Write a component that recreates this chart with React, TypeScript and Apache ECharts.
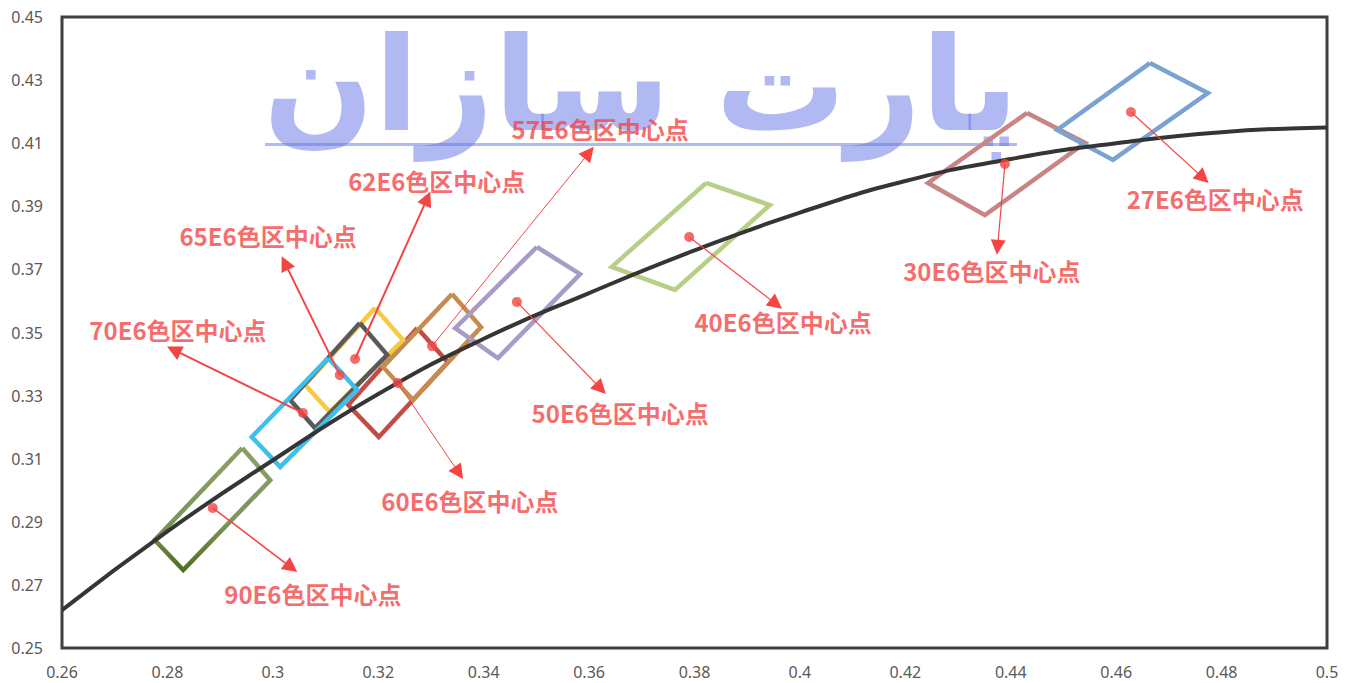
import React, { useEffect, useRef } from 'react';
import * as echarts from 'echarts';

// Fitted curve
const curveX = [0.26, 0.28, 0.30, 0.32, 0.34, 0.36, 0.38, 0.40, 0.42, 0.44, 0.46, 0.48, 0.50];
const curveY = [0.262, 0.287, 0.3095, 0.3305, 0.348, 0.3625, 0.376, 0.388, 0.398, 0.405, 0.410, 0.4135, 0.415];

// Colour zones
const zoneNames = ['27E6', '30E6', '40E6', '50E6', '57E6', '60E6', '62E6', '65E6', '70E6', '90E6'];
const labelSuffix = '色区中心点';
const zoneCorners = [
  [[0.4664, 0.4354], [0.4774, 0.4259], [0.4594, 0.4047], [0.4488, 0.4142]],
  [[0.4431, 0.4196], [0.4541, 0.4101], [0.4351, 0.3872], [0.4243, 0.3974]],
  [[0.3822, 0.3974], [0.3943, 0.3904], [0.3763, 0.3635], [0.3643, 0.3708]],
  [[0.3501, 0.3771], [0.3583, 0.3685], [0.3427, 0.3419], [0.3346, 0.3514]],
  [[0.3340, 0.3622], [0.3395, 0.3517], [0.3266, 0.3286], [0.3209, 0.3391]],
  [[0.3274, 0.3514], [0.3332, 0.3406], [0.3201, 0.3169], [0.3143, 0.3270]],
  [[0.3194, 0.3578], [0.3247, 0.3476], [0.3108, 0.3248], [0.3061, 0.3334]],
  [[0.3165, 0.3530], [0.3217, 0.3429], [0.3080, 0.3197], [0.3033, 0.3286]],
  [[0.3105, 0.3419], [0.3160, 0.3318], [0.3014, 0.3074], [0.2960, 0.3169]],
  [[0.2942, 0.3134], [0.2995, 0.3032], [0.2830, 0.2747], [0.2776, 0.2842]],
];
const zoneCenters = [
  [0.4628, 0.4199], [0.4389, 0.4034], [0.3790, 0.3803], [0.3463, 0.3597], [0.3302, 0.3457],
  [0.3237, 0.3340], [0.3156, 0.3416], [0.3127, 0.3365], [0.3057, 0.3245], [0.2886, 0.2944],
];
const arrowTips = [
  [0.4765, 0.3990], [0.4375, 0.3770], [0.3955, 0.3590], [0.3622, 0.3322], [0.3600, 0.4070],
  [0.3353, 0.3055], [0.3293, 0.3925], [0.3023, 0.3720], [0.2812, 0.3445], [0.3035, 0.2755],
];
const labelSpots = [
  [0.4788, 0.3926], [0.4364, 0.3695], [0.3968, 0.3536], [0.3659, 0.3248], [0.3621, 0.4148],
  [0.3374, 0.2969], [0.3311, 0.3983], [0.2991, 0.3809], [0.2820, 0.3508], [0.3076, 0.2674],
];

// styles (kept apart from data)
const zoneColors = ['#7ba3d2', '#c98584', '#b7cf86', '#a89bc8', '#c58b4f', '#c24b47', '#f9c841', '#5a5a5a', '#3ec0ec', '#7c955a'];
const arrowWidths = [1.2, 1.2, 1.2, 1.2, 1, 1, 2, 2, 2, 1.5];
const drawOrder = [9, 5, 4, 6, 7, 8, 3, 2, 1, 0];

export default function App() {
  const ref = useRef<HTMLDivElement>(null);
  useEffect(() => {
    if (!ref.current) return;
    const chart = echarts.init(ref.current, undefined, { renderer: 'svg' });
    const red = '#f44545';
    const wm = 'rgba(100,115,230,0.5)';
    const zoneSeries = drawOrder.map((i) => ({
      type: 'line',
      name: zoneNames[i],
      data: [...zoneCorners[i], zoneCorners[i][0]],
      showSymbol: false,
      symbol: 'none',
      lineStyle: {
        width: 4.5,
        join: 'miter',
        color:
          i === 9
            ? new echarts.graphic.LinearGradient(0, 0, 0, 1, [
                { offset: 0, color: '#8aa068' },
                { offset: 0.6, color: '#7c955a' },
                { offset: 1, color: '#50701f' },
              ])
            : zoneColors[i],
      },
      z: 2,
      silent: true,
    }));
    const option: any = {
      animation: false,
      grid: {
        left: 62,
        right: 28,
        top: 17,
        bottom: 35,
        show: true,
        borderColor: '#3f3f3f',
        borderWidth: 3,
        containLabel: false,
      },
      xAxis: {
        type: 'value',
        min: 0.26,
        max: 0.5,
        interval: 0.02,
        axisLine: { show: false },
        axisTick: { show: false },
        splitLine: { show: false },
        axisLabel: { color: '#595959', fontSize: 16, margin: 16, fontFamily: 'Noto Sans' },
      },
      yAxis: {
        type: 'value',
        min: 0.25,
        max: 0.45,
        interval: 0.01,
        axisLine: { show: false },
        axisTick: { show: false },
        splitLine: { show: false },
        axisLabel: {
          color: '#595959',
          fontSize: 16,
          margin: 19,
          fontFamily: 'Noto Sans',
          formatter: (v: number) => (Math.round(v * 100) % 2 === 1 ? v.toFixed(2) : ''),
        },
      },
      graphic: [
        {
          type: 'text',
          x: 641,
          y: 150,
          z: 1,
          silent: true,
          style: {
            text: 'پارت سازان',
            fontSize: 130,
            fontWeight: 'bold',
            fontFamily: 'DejaVu Sans',
            fill: wm,
            align: 'center',
            verticalAlign: 'bottom',
          },
        },
        {
          type: 'rect',
          z: 1,
          silent: true,
          shape: { x: 265, y: 143, width: 752, height: 3 },
          style: { fill: wm },
        },
      ],
      series: [
        ...zoneSeries,
        {
          type: 'line',
          name: 'curve',
          data: curveX.map((x, i) => [x, curveY[i]]),
          smooth: true,
          showSymbol: false,
          symbol: 'none',
          lineStyle: { width: 4, color: '#353535' },
          z: 3,
          silent: true,
        },
        {
          type: 'lines',
          coordinateSystem: 'cartesian2d',
          symbol: ['none', 'triangle'],
          symbolSize: [11, 15],
          lineStyle: { color: red, opacity: 1 },
          data: zoneCenters.map((c, i) => ({
            coords: [c, arrowTips[i]],
            lineStyle: { width: arrowWidths[i], color: red, opacity: 1 },
          })),
          z: 4,
          silent: true,
        },
        {
          type: 'scatter',
          data: zoneCenters,
          symbolSize: 10,
          itemStyle: { color: red },
          z: 5,
          silent: true,
        },
        {
          type: 'scatter',
          data: labelSpots.map((p, i) => ({ value: p, name: zoneNames[i] + labelSuffix })),
          symbolSize: 1,
          itemStyle: { color: 'transparent' },
          label: {
            show: true,
            position: 'inside',
            formatter: '{b}',
            color: red,
            fontSize: 24,
            fontWeight: 'bold',
            fontFamily: 'Noto Sans CJK SC',
          },
          z: 6,
          silent: true,
        },
      ],
    };
    chart.setOption(option);
    return () => chart.dispose();
  }, []);
  return <div ref={ref} style={{ width: 1355, height: 683, position: 'absolute', left: 0, top: 0 }} />;
}
